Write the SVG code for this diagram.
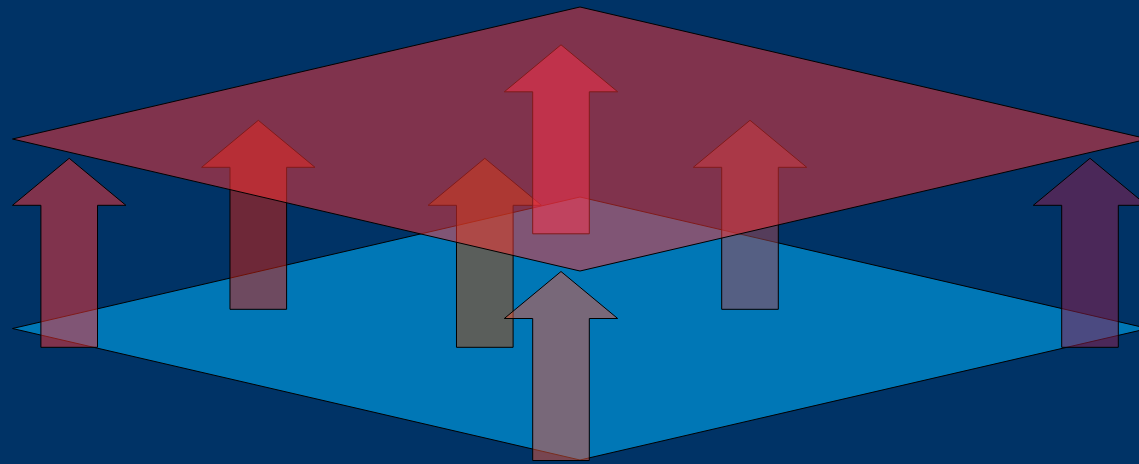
<svg xmlns="http://www.w3.org/2000/svg" xmlns:xlink="http://www.w3.org/1999/xlink" width="1139" height="464" viewBox="0 0 1139 464">
  <style>
    .plane { stroke: #000; stroke-width: 1; }
    .arrow { stroke: #000; stroke-width: 1; fill-opacity: 0.5; }
  </style>
  <defs>
    <path id="arrowShape" d="M0,0 L56.7,47 L28.3,47 L28.3,189 L-28.3,189 L-28.3,47 L-56.7,47 Z"/>
  </defs>
  <rect x="0" y="0" width="1139" height="464" fill="#003366"/>
  <g id="bottom-plane">
    <polygon class="plane" points="12.5,328.5 580,197 1148,328.5 580,460" fill="#0077b6"/>
  </g>
  <g id="arrows">
    <g id="arrow-left"><use href="#arrowShape" xlink:href="#arrowShape" class="arrow" x="69.2" y="158.3" fill="#ff3333"/></g>
    <g id="arrow-right"><use href="#arrowShape" xlink:href="#arrowShape" class="arrow" x="1090" y="158.3" fill="#961e4b"/></g>
    <g id="arrow-258"><use href="#arrowShape" xlink:href="#arrowShape" class="arrow" x="258.3" y="120.3" fill="#dc1e0a"/></g>
    <g id="arrow-750"><use href="#arrowShape" xlink:href="#arrowShape" class="arrow" x="750" y="120.3" fill="#aa474f"/></g>
    <g id="arrow-485"><use href="#arrowShape" xlink:href="#arrowShape" class="arrow" x="484.8" y="158.3" fill="#b44600"/></g>
    <g id="arrow-center-top"><use href="#arrowShape" xlink:href="#arrowShape" class="arrow" x="561" y="44.8" fill="#ff2f60"/></g>
    <g id="arrow-center-bottom"><use href="#arrowShape" xlink:href="#arrowShape" class="arrow" x="561" y="271.5" fill="#f05a3c"/></g>
  </g>
  <g id="top-plane">
    <polygon class="plane" points="12.5,139 580,7 1148,139 580,271" fill="#ff3333" fill-opacity="0.5"/>
  </g>
</svg>
